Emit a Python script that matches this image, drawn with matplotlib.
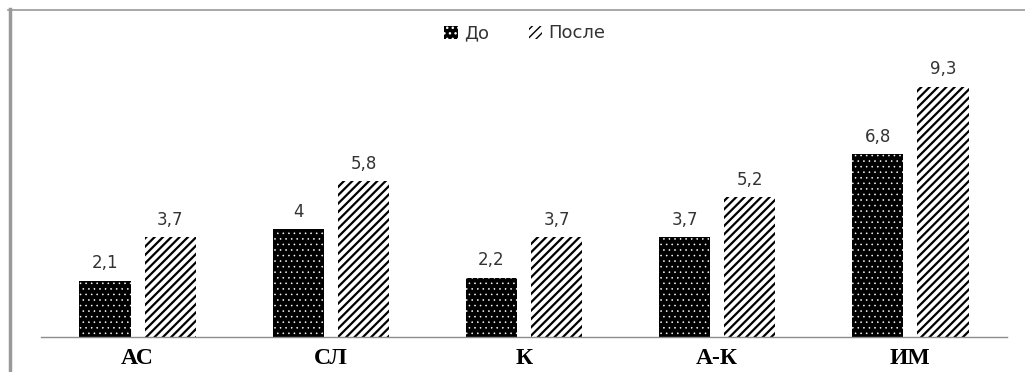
import matplotlib as mpl
import matplotlib.pyplot as plt
from matplotlib.lines import Line2D
import numpy as np

categories = ['АС', 'СЛ', 'К', 'А-К', 'ИМ']
before = [2.1, 4, 2.2, 3.7, 6.8]
after = [3.7, 5.8, 3.7, 5.2, 9.3]
series_names = ['До', 'После']


def fmt(v):
    # запятая как десятичный разделитель
    return ('%g' % v).replace('.', ',')


def hatch_width(container, lw):
    # толщина штриховки для каждого столбца отдельно
    for p in container.patches:
        if hasattr(p, 'set_hatch_linewidth'):
            p.set_hatch_linewidth(lw)
        else:
            p._hatch_linewidth = lw


fig = plt.figure(figsize=(10.25, 3.72), dpi=100)
ax = fig.add_axes([41 / 1025, 35 / 372, 966 / 1025, 0.7594])

x = np.arange(len(categories))
width = 0.265
shift = 0.169

with mpl.rc_context({'hatch.linewidth': 0.4}):
    bars_before = ax.bar(x - shift, before, width, facecolor='black', edgecolor='white',
                         hatch='...', linewidth=0, label=series_names[0])
hatch_width(bars_before, 0.4)

with mpl.rc_context({'hatch.linewidth': 1.6}):
    bars_after = ax.bar(x + shift, after, width, facecolor='white', edgecolor='black',
                        hatch='////', linewidth=0, label=series_names[1])
hatch_width(bars_after, 1.6)

for bars, vals in [(bars_before, before), (bars_after, after)]:
    for b, v in zip(bars, vals):
        ax.annotate(fmt(v), (b.get_x() + b.get_width() / 2, v), xytext=(0, 6),
                    textcoords='offset points', ha='center', va='bottom',
                    fontsize=12, color='#333333', family='DejaVu Sans')

ax.set_xlim(-0.5, len(categories) - 0.5)
ax.set_ylim(0, 10.5)
ax.set_xticks(x)
ax.set_xticklabels(categories, fontsize=17, fontweight='bold', family='Liberation Serif')
ax.tick_params(axis='x', length=0, pad=8)
ax.set_yticks([])
for side in ['top', 'right', 'left']:
    ax.spines[side].set_visible(False)
ax.spines['bottom'].set_color('#8c8c8c')
ax.spines['bottom'].set_linewidth(1.0)

leg = fig.legend(loc='center', bbox_to_anchor=(0.512, 0.91), ncol=2, frameon=False,
                 handlelength=0.75, handleheight=0.75, handletextpad=0.35, columnspacing=2.2,
                 prop={'family': 'DejaVu Sans', 'size': 13})
for t in leg.get_texts():
    t.set_color('#333333')

# серая рамка слева и сверху
fig.add_artist(Line2D([9.5 / 1025, 9.5 / 1025], [0, 1 - 9 / 372], color='#999999',
                      linewidth=2.5, transform=fig.transFigure))
fig.add_artist(Line2D([8 / 1025, 1], [1 - 9.5 / 372, 1 - 9.5 / 372], color='#999999',
                      linewidth=1.2, transform=fig.transFigure))

fig.savefig('out.png', dpi=100)
